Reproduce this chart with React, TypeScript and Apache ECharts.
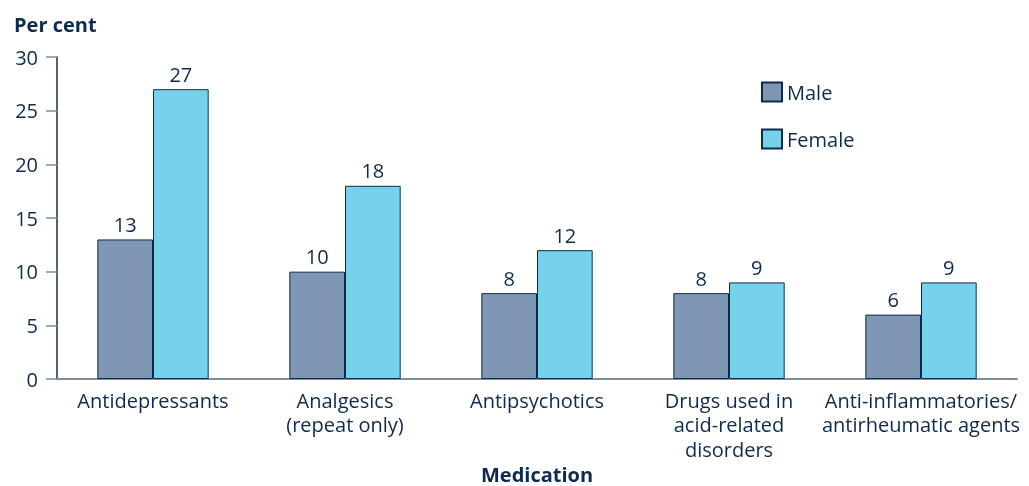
import React, { useEffect, useRef } from "react";
import * as echarts from "echarts";

const categories = [
  "Antidepressants",
  "Analgesics\n(repeat only)",
  "Antipsychotics",
  "Drugs used in\nacid-related\ndisorders",
  "Anti-inflammatories/\nantirheumatic agents",
];
const maleValues = [13, 10, 8, 8, 6];
const femaleValues = [27, 18, 12, 9, 9];
const yTicks = [0, 5, 10, 15, 20, 25, 30];

const TEXT = "#0d2b50";
const FONT = "Open Sans";

export default function App() {
  const ref = useRef<HTMLDivElement>(null);
  useEffect(() => {
    if (!ref.current) return;
    const chart = echarts.init(ref.current, undefined, { renderer: "svg" });
    const labelCfg = {
      show: true,
      position: "top" as const,
      distance: 5,
      color: TEXT,
      fontFamily: FONT,
      fontSize: 20,
    };
    chart.setOption({
      animation: false,
      textStyle: { fontFamily: FONT, color: TEXT },
      grid: { left: 57, right: 12, top: 57, bottom: 107, containLabel: false },
      legend: {
        orient: "vertical",
        left: 756,
        top: 76,
        itemWidth: 20,
        itemHeight: 19,
        itemGap: 25,
        itemTextGap: 11,
        icon: "rect",
        textStyle: { color: TEXT, fontFamily: FONT, fontSize: 20, lineHeight: 22 },
        data: ["Male", "Female"],
      },
      xAxis: {
        type: "category",
        data: categories,
        axisLine: { lineStyle: { color: "#7d8da3", width: 2 } },
        axisTick: { show: false },
        axisLabel: {
          color: TEXT,
          fontFamily: FONT,
          fontSize: 20,
          margin: 9,
          lineHeight: 24.5,
          interval: 0,
        },
      },
      yAxis: {
        type: "value",
        min: 0,
        max: 30,
        interval: 5,
        splitLine: { show: false },
        axisLine: { show: true, lineStyle: { color: "#13304f", width: 1.5 } },
        axisTick: { show: true, length: 11, lineStyle: { color: "#7d8da3", width: 1.5 } },
        axisLabel: {
          color: TEXT,
          fontFamily: FONT,
          fontSize: 20,
          margin: 19,
          formatter: (v: number) => (yTicks.includes(v) ? String(v) : ""),
        },
      },
      series: [
        {
          name: "Male",
          type: "bar",
          data: maleValues,
          barGap: "0%",
          barCategoryGap: "42%",
          itemStyle: { color: "#7f97b4", borderColor: "#0d2b4e", borderWidth: 1 },
          label: labelCfg,
        },
        {
          name: "Female",
          type: "bar",
          data: femaleValues,
          itemStyle: { color: "#78d1eb", borderColor: "#0d2b4e", borderWidth: 1 },
          label: labelCfg,
        },
      ],
      graphic: [
        {
          type: "text",
          x: 14,
          y: 24,
          style: {
            text: "Per cent",
            fill: TEXT,
            font: `bold 20px "${FONT}"`,
            verticalAlign: "middle",
          },
        },
        {
          type: "text",
          x: 537,
          y: 474,
          style: {
            text: "Medication",
            fill: TEXT,
            font: `bold 20px "${FONT}"`,
            align: "center",
            verticalAlign: "middle",
          },
        },
      ],
    });
    return () => chart.dispose();
  }, []);
  return (
    <div
      ref={ref}
      style={{ position: "fixed", left: 0, top: 0, width: 1029, height: 486 }}
    />
  );
}
